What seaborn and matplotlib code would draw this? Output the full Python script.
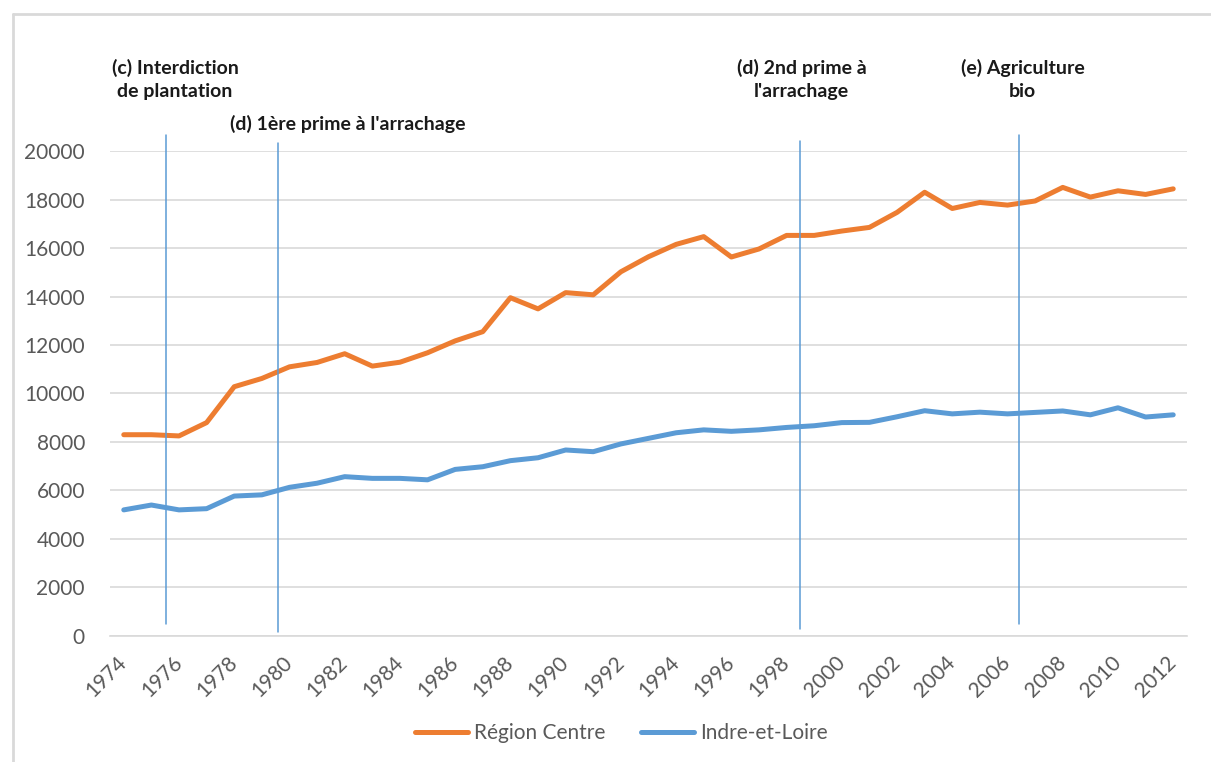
import numpy as np
import pandas as pd
import matplotlib.pyplot as plt
import matplotlib.transforms as mtransforms
from matplotlib.lines import Line2D
import seaborn as sns

# data
years = list(range(1974, 2013))
region_centre = [8300, 8300, 8250, 8800, 10280, 10620, 11100, 11280, 11640, 11130,
                 11290, 11680, 12170, 12550, 13950, 13490, 14160, 14070, 15020, 15640,
                 16150, 16470, 15630, 15960, 16520, 16520, 16700, 16850, 17470, 18300,
                 17630, 17880, 17770, 17940, 18500, 18100, 18360, 18210, 18440]
indre_et_loire = [5200, 5400, 5200, 5250, 5770, 5820, 6130, 6300, 6570, 6500,
                  6500, 6440, 6870, 6980, 7230, 7350, 7670, 7600, 7920, 8150,
                  8380, 8500, 8440, 8500, 8600, 8670, 8800, 8810, 9040, 9290,
                  9160, 9230, 9160, 9220, 9280, 9120, 9410, 9030, 9120]
series_names = ['Région Centre', 'Indre-et-Loire']

event_years = [1975.53, 1979.6, 1998.47, 2006.43]
event_labels = ['(c) Interdiction\nde plantation', "(d) 1ère prime à l'arrachage",
                "(d) 2nd prime à\nl'arrachage", '(e) Agriculture\nbio']
label_years = [1975.86, 1982.1, 1998.55, 2006.55]

df = pd.DataFrame({
    'year': years * 2,
    'value': region_centre + indre_et_loire,
    'serie': [series_names[0]] * len(years) + [series_names[1]] * len(years),
})

sns.set_style('white')
plt.rcParams['font.family'] = ['Lato', 'DejaVu Sans']

fig = plt.figure(figsize=(12.11, 7.62), dpi=100)
ax = fig.add_axes([0.0908, 0.1654, 0.8894, 0.6364])

palette = {'Région Centre': '#ED7D31', 'Indre-et-Loire': '#5B9BD5'}
sns.lineplot(data=df, x='year', y='value', hue='serie', palette=palette,
             linewidth=3.6, ax=ax, legend=False)

ax.set_xlim(1973.5, 2012.5)
ax.set_ylim(0, 20000)
ax.set_yticks(range(0, 20001, 2000))
ax.set_yticklabels([str(v) for v in range(0, 20001, 2000)])
ax.yaxis.grid(True, color='#d9d9d9', linewidth=1.2)
ax.set_axisbelow(True)
ax.set_xlabel('')
ax.set_ylabel('')

# year labels every two years, tick marks between categories
ax.set_xticks(years[::2])
ax.set_xticklabels([str(y) for y in years[::2]], rotation=45, ha='right',
                   va='center', rotation_mode='anchor')
ax.set_xticks(np.arange(1973.5, 2012, 2), minor=True)
ax.tick_params(axis='x', which='major', length=0, pad=17, labelsize=15,
               labelcolor='#595959')
ax.tick_params(axis='x', which='minor', direction='in', length=6, width=1.2,
               color='#d9d9d9')
ax.tick_params(axis='y', length=0, pad=18, labelsize=15, labelcolor='#595959')

for s in ['top', 'right', 'left']:
    ax.spines[s].set_visible(False)
ax.spines['bottom'].set_color('#d9d9d9')
ax.spines['bottom'].set_linewidth(1.2)

# event markers
spans = [(480, 20660), (150, 20340), (280, 20430), (480, 20660)]
for yr, (y0, y1) in zip(event_years, spans):
    ax.plot([yr, yr], [y0, y1], color='#5B9BD5', linewidth=1.1, clip_on=False)

trans = mtransforms.blended_transform_factory(ax.transData, fig.transFigure)
label_y = [0.896, 0.837, 0.896, 0.896]
for yr, txt, yy in zip(label_years, event_labels, label_y):
    ax.text(yr, yy, txt, transform=trans, ha='center', va='center',
            fontsize=14, fontweight='bold', color='#1a1a1a', linespacing=1.45)

# legend
handles = [Line2D([0], [0], color=palette[n], linewidth=3.6, solid_capstyle='round')
           for n in series_names]
fig.legend(handles, series_names, loc='center', bbox_to_anchor=(0.513, 0.038),
           ncol=2, frameon=False, fontsize=15, labelcolor='#595959',
           handlelength=2.55, handletextpad=0.3, columnspacing=1.7)

# chart area border (left and top edges)
fig.add_artist(Line2D([0.011, 0.011], [0, 0.982], color='#d9d9d9', linewidth=2,
                      transform=fig.transFigure))
fig.add_artist(Line2D([0.011, 1], [0.982, 0.982], color='#d9d9d9', linewidth=2,
                      transform=fig.transFigure))

fig.savefig('out.png', dpi=100)
